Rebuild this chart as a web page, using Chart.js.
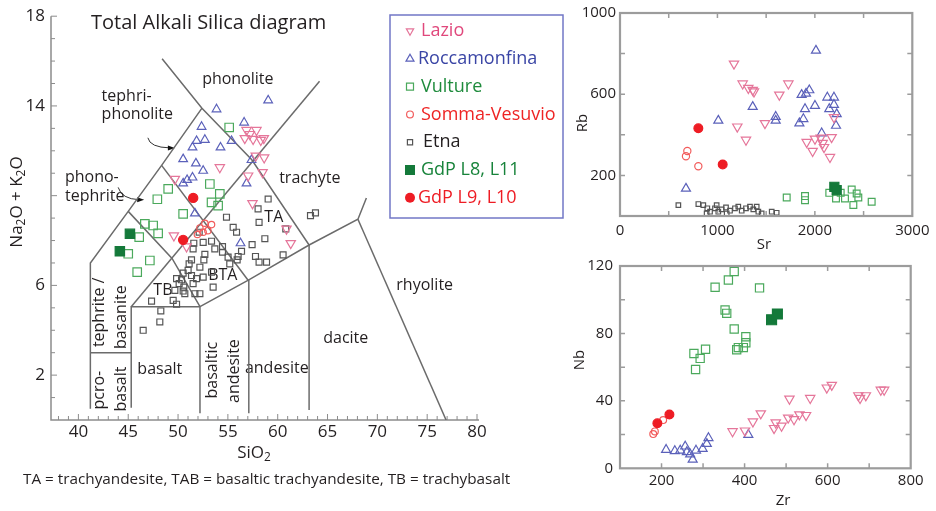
<!DOCTYPE html>
<html>
<head>
<meta charset="utf-8">
<script src="https://cdn.jsdelivr.net/npm/chart.js@4.4.1/dist/chart.umd.min.js"></script>
<style>
  html, body { margin: 0; padding: 0; background: #fff; }
  #wrap { position: relative; width: 936px; height: 511px; overflow: hidden; }
  canvas { position: absolute; }
</style>
</head>
<body>
<div id="wrap">
  <canvas id="tas" width="580" height="511" style="left:0;top:0"></canvas>
  <canvas id="nbzr" width="366" height="261" style="left:570px;top:250px"></canvas>
  <canvas id="rbsr" width="366" height="262" style="left:570px;top:0"></canvas>
</div>
<script>
// ---------- TAS diagram: SiO2 (x) vs Na2O + K2O (y) ----------
const lazioTAS = [[56.87,12.92],[57.87,12.92],[56.70,12.56],[57.53,12.52],[58.30,12.48],[58.61,12.56],
  [57.80,11.78],[58.64,11.70],[54.19,11.26],[57.03,10.89],[58.48,11.04],[57.47,9.66],[49.68,10.74],
  [49.58,8.22],[50.85,7.73],[60.88,8.52],[61.31,7.88],[57.20,12.74]];
const roccaTAS = [[59.04,14.25],[53.86,13.85],[56.63,13.26],[52.36,13.07],[51.86,12.44],[52.69,12.49],
  [51.45,12.15],[54.26,12.15],[55.37,12.44],[50.51,11.63],[51.79,11.44],[52.52,11.11],[51.45,10.81],
  [50.91,10.70],[50.51,10.55],[57.37,11.59],[56.87,10.55],[51.69,9.21],[56.27,7.88]];
const vultureTAS = [[55.13,13.04],[53.19,10.52],[54.19,10.08],[53.36,9.70],[54.02,9.56],[50.51,9.19],
  [49.01,10.30],[47.92,9.84],[46.67,8.74],[47.50,8.67],[48.00,8.32],[46.10,8.15],[47.17,7.11],
  [45.90,6.59],[45.00,7.41]];
const sommaTAS = [[53.36,8.71],[52.69,8.77],[52.19,8.56],[52.52,8.37],[51.94,8.27],[52.99,8.44]];
const etnaTAS = [[52.12,8.37],[52.52,7.92],[53.36,7.97],[53.69,7.63],[54.46,7.73],[54.46,7.48],[55.02,7.26],
  [55.93,7.14],[56.37,7.52],[57.43,7.82],[58.71,8.08],[57.77,7.29],[58.13,7.04],[58.88,7.04],[60.54,7.36],
  [51.51,7.63],[52.69,7.38],[52.59,7.14],[51.35,7.14],[51.11,6.96],[52.19,6.81],[49.85,6.30],[50.35,6.25],
  [50.11,6.08],[50.58,5.92],[50.68,5.63],[51.35,6.44],[52.19,5.63],[53.52,5.92],[47.34,5.30],[49.51,5.33],
  [49.85,5.16],[48.27,4.86],[48.17,4.37],[46.50,4.00],[59.04,9.85],[58.03,9.41],[58.13,8.81],[55.53,8.59],
  [55.87,8.37],[60.81,8.52],[54.86,9.04],[63.29,9.11],[63.79,9.23],[51.01,6.67],[51.86,6.30],[53.36,6.59],
  [50.51,5.75],[49.68,5.78],[51.69,5.63],[51.58,7.88],[56.03,7.29],[50.51,6.55],[51.51,6.08],[52.52,6.37],
  [55.19,6.96]];
const gdpGreenTAS = [[45.17,8.30],[44.16,7.52]];
const gdpRedTAS = [[51.52,9.90],[50.51,8.03]];

// field boundaries (SiO2, alkalis)
const tasLeftEdge = [[41.2,0.5],[41.2,7.0],[45.0,9.3],[48.35,11.35],[52.4,13.9]];
const picroTop = [[41.2,3.0],[45.3,3.0]];
const basaltBox = [[45.3,0.55],[45.3,5.05],[52.2,5.05],[52.2,0.3]];
const longDiagonal = [[45.3,5.05],[64.2,15.1]];
const tephriteEdge = [[45.0,9.3],[49.4,7.2],[52.2,5.05]];
const phonoTephriteEdge = [[48.35,11.35],[57.05,6.22]];
const trachyBase = [[52.2,5.05],[57.1,6.25],[63.15,7.8],[68.05,8.95],[68.9,9.9]];
const andesiteLine = [[57.1,0.3],[57.1,6.25]];
const daciteLine = [[63.15,0.45],[63.15,7.8]];
const rhyoliteLine = [[68.05,8.95],[76.9,0]];
const phonoliteEdge = [[48.4,16.1],[52.4,13.9],[57.4,11.6],[63.15,7.8]];
const tasBoundaries = [tasLeftEdge, picroTop, basaltBox, longDiagonal, tephriteEdge, phonoTephriteEdge,
  trachyBase, andesiteLine, daciteLine, rhyoliteLine, phonoliteEdge];

const tasXLabels = [40, 45, 50, 55, 60, 65, 70, 75, 80];
const tasYLabels = [2, 6, 14, 18];

// ---------- Rb vs Sr ----------
const lazioRbSr = [[1170,750],[1259,652],[1317,630],[1362,620],[1375,613],[1728,652],[1635,597],[1204,440],
  [1293,375],[1488,457],[1916,364],[2001,380],[2059,385],[2080,359],[2094,339],[1977,320],[2172,388],
  [2155,290],[2196,486]];
const roccaRbSr = [[2011,815],[1362,538],[1009,470],[1598,489],[1598,470],[1864,597],[1943,620],[1909,603],
  [1899,527],[1882,478],[1841,457],[2001,543],[2128,584],[2196,584],[2148,527],[2196,548],[2224,502],
  [2217,445],[2070,408],[677,135]];
const vultureRbSr = [[1711,91],[1899,98],[1899,78],[2148,114],[2217,86],[2309,86],[2378,130],[2429,111],
  [2446,91],[2395,54],[2583,70],[2265,114]];
const sommaRbSr = [[691,320],[677,294],[804,245]];
const etnaRbSr = [[599,54],[804,59],[855,54],[896,38],[924,21],[975,38],[1009,21],[1043,33],[1088,42],
  [1129,26],[1180,38],[1214,46],[1249,26],[1293,38],[1334,46],[1368,33],[1403,46],[1420,21],[1454,13],
  [1557,21],[1608,16],[889,13],[992,54],[1095,13]];
const gdpGreenRbSr = [[2200,144],[2224,127]];
const gdpRedRbSr = [[804,432],[1054,254]];

// ---------- Nb vs Zr ----------
const lazioNbZr = [[371,21.9],[401,22.3],[420,27.7],[439,32.5],[475,27.1],[471,23.8],[489,25.2],[505,30.0],
  [519,29.0],[532,31.9],[548,31.5],[508,41.2],[558,41.6],[598,47.8],[610,49.4],[674,43.2],[678,41.6],
  [692,43.2],[728,46.5],[736,46.5]];
const roccaNbZr = [[211,11.0],[232,10.3],[245,10.6],[257,13.0],[261,9.7],[269,8.3],[275,5.2],[283,10.6],
  [299,11.6],[309,14.5],[313,18.0],[409,19.9]];
const vultureNbZr = [[375,116.7],[361,111.7],[329,107.4],[436,107.0],[353,93.9],[357,91.9],[375,82.6],
  [403,78.0],[403,74.5],[397,71.6],[385,71.6],[381,70.3],[278,68.1],[293,65.2],[306,70.6],[282,58.6]];
const sommaNbZr = [[180,20.3],[184,21.9],[204,28.6]];
const gdpGreenNbZr = [[465,88.1],[479,91.5]];
const gdpRedNbZr = [[190,26.7],[219,31.9]];

const FONT = "'Open Sans', sans-serif";
const TEXT = '#231f20';
Chart.defaults.font.family = FONT;
Chart.defaults.color = TEXT;

// marker look for every group
const looks = {
  lazio:   { shape: 'triangle', rot: 180, color: '#e5769a', text: '#e0487c', fill: false },
  rocca:   { shape: 'triangle', rot: 0,   color: '#5b61ba', text: '#3a45a5', fill: false },
  vulture: { shape: 'rect',     rot: 0,   color: '#4ba95c', text: '#1e8b3c', fill: false },
  somma:   { shape: 'circle',   rot: 0,   color: '#f25c5c', text: '#ee2424', fill: false },
  etna:    { shape: 'rect',     rot: 0,   color: '#555555', text: '#231f20', fill: false },
  gdpG:    { shape: 'rect',     rot: 0,   color: '#14793a', text: '#17833a', fill: true },
  gdpR:    { shape: 'circle',   rot: 0,   color: '#ee1c24', text: '#ee1c24', fill: true }
};

function toPoints(arr) { return arr.map(p => ({ x: p[0], y: p[1] })); }

function pointSet(arr, key, r) {
  const lk = looks[key];
  return {
    data: toPoints(arr),
    pointStyle: lk.shape,
    rotation: lk.rot,
    pointRadius: r,
    borderColor: lk.color,
    backgroundColor: lk.fill ? lk.color : 'rgba(255,255,255,0)',
    borderWidth: 1.2,
    showLine: false,
    order: 0
  };
}

function lineSet(arr) {
  return {
    data: toPoints(arr),
    showLine: true,
    pointRadius: 0,
    borderColor: '#6b6b6b',
    borderWidth: 1.5,
    fill: false,
    tension: 0,
    order: 10
  };
}

// text with subscripts, parts = [[str, isSub], ...]
function richText(ctx, parts, cx, cy, size, vertical) {
  ctx.save();
  ctx.translate(cx, cy);
  if (vertical) ctx.rotate(-Math.PI / 2);
  let w = 0;
  parts.forEach(p => {
    ctx.font = (p[1] ? size * 0.7 : size) + 'px ' + FONT;
    w += ctx.measureText(p[0]).width;
  });
  let x = -w / 2;
  ctx.textBaseline = 'middle';
  ctx.textAlign = 'left';
  ctx.fillStyle = TEXT;
  parts.forEach(p => {
    ctx.font = (p[1] ? size * 0.7 : size) + 'px ' + FONT;
    ctx.fillText(p[0], x, p[1] ? size * 0.3 : 0);
    x += ctx.measureText(p[0]).width;
  });
  ctx.restore();
}

function drawMarker(ctx, key, x, y, r) {
  const lk = looks[key];
  ctx.beginPath();
  if (lk.shape === 'triangle') {
    const s = lk.rot ? -1 : 1;
    ctx.moveTo(x, y - s * r);
    ctx.lineTo(x + r * 0.866, y + s * r / 2);
    ctx.lineTo(x - r * 0.866, y + s * r / 2);
    ctx.closePath();
  } else if (lk.shape === 'rect') {
    ctx.rect(x - r, y - r, 2 * r, 2 * r);
  } else {
    ctx.arc(x, y, r, 0, Math.PI * 2);
  }
  if (lk.fill) { ctx.fillStyle = lk.color; ctx.fill(); }
  else { ctx.strokeStyle = lk.color; ctx.lineWidth = 1.2; ctx.stroke(); }
}

// field names in data units
const fieldNames = [
  { t: 'phonolite', x: 56.0, y: 15.2, align: 'center' },
  { t: 'tephri-', x: 42.33, y: 14.44, align: 'left' },
  { t: 'phonolite', x: 42.33, y: 13.6, align: 'left' },
  { t: 'phono-', x: 38.65, y: 10.8, align: 'left' },
  { t: 'tephrite', x: 38.65, y: 9.96, align: 'left' },
  { t: 'trachyte', x: 63.22, y: 10.76, align: 'center' },
  { t: 'TA', x: 59.61, y: 9.02, align: 'center' },
  { t: 'BTA', x: 54.49, y: 6.44, align: 'center' },
  { t: 'TB', x: 48.48, y: 5.78, align: 'center' },
  { t: 'rhyolite', x: 74.75, y: 6.0, align: 'center' },
  { t: 'dacite', x: 66.83, y: 3.64, align: 'center' },
  { t: 'andesite', x: 59.91, y: 2.31, align: 'center' },
  { t: 'basalt', x: 48.17, y: 2.27, align: 'center' },
  { t: 'tephrite /', x: 42.16, y: 4.8, vertical: true },
  { t: 'basanite', x: 44.36, y: 4.58, vertical: true },
  { t: 'pcro-', x: 42.16, y: 1.33, vertical: true },
  { t: 'basalt', x: 44.36, y: 1.38, vertical: true },
  { t: 'basaltic', x: 53.49, y: 2.22, vertical: true },
  { t: 'andesite', x: 55.70, y: 2.18, vertical: true }
];
// curved pointers: start, control, end (data units)
const pointers = [
  [[46.97, 12.58], [47.17, 12.15], [49.58, 12.13]],
  [[43.99, 10.37], [44.33, 9.85], [46.5, 9.82]]
];

const legendRows = [
  { key: 'lazio', label: 'Lazio', r: 4.2, tx: 421 },
  { key: 'rocca', label: 'Roccamonfina', r: 4.6, tx: 418 },
  { key: 'vulture', label: 'Vulture', r: 3.5, tx: 421 },
  { key: 'somma', label: 'Somma-Vesuvio', r: 3.4, tx: 421 },
  { key: 'etna', label: 'Etna', r: 2.6, tx: 423 },
  { key: 'gdpG', label: 'GdP L8, L11', r: 5, tx: 421 },
  { key: 'gdpR', label: 'GdP L9, L10', r: 5, tx: 418 }
];

const tasDecor = {
  id: 'tasDecor',
  beforeDatasetsDraw(chart) {
    const { ctx, chartArea: a, scales: { x, y } } = chart;
    ctx.save();
    // axis lines and inward ticks
    ctx.strokeStyle = '#8c8c8c';
    ctx.lineWidth = 1.5;
    ctx.beginPath();
    ctx.moveTo(a.left, a.top); ctx.lineTo(a.left, a.bottom); ctx.lineTo(a.right, a.bottom);
    ctx.stroke();
    ctx.lineWidth = 1;
    ctx.beginPath();
    for (let v = 38; v <= 80; v++) {
      const px = x.getPixelForValue(v), l = v % 5 === 0 ? 6 : 4;
      ctx.moveTo(px, a.bottom); ctx.lineTo(px, a.bottom - l);
    }
    for (let v = 1; v <= 18; v++) {
      const py = y.getPixelForValue(v), l = v % 4 === 2 ? 6 : 4;
      ctx.moveTo(a.left, py); ctx.lineTo(a.left + l, py);
    }
    ctx.stroke();

    // field names
    ctx.fillStyle = TEXT;
    ctx.font = '16px ' + FONT;
    ctx.textBaseline = 'middle';
    fieldNames.forEach(f => {
      const px = x.getPixelForValue(f.x), py = y.getPixelForValue(f.y);
      if (f.vertical) {
        ctx.save(); ctx.translate(px, py); ctx.rotate(-Math.PI / 2);
        ctx.textAlign = 'center'; ctx.fillText(f.t, 0, 0); ctx.restore();
      } else {
        ctx.textAlign = f.align; ctx.fillText(f.t, px, py);
      }
    });

    // pointers
    ctx.strokeStyle = '#333'; ctx.fillStyle = '#111'; ctx.lineWidth = 1;
    pointers.forEach(p => {
      const s = [x.getPixelForValue(p[0][0]), y.getPixelForValue(p[0][1])];
      const c = [x.getPixelForValue(p[1][0]), y.getPixelForValue(p[1][1])];
      const e = [x.getPixelForValue(p[2][0]), y.getPixelForValue(p[2][1])];
      ctx.beginPath(); ctx.moveTo(s[0], s[1]); ctx.quadraticCurveTo(c[0], c[1], e[0] - 4, e[1]); ctx.stroke();
      ctx.beginPath(); ctx.moveTo(e[0] + 1, e[1]); ctx.lineTo(e[0] - 6, e[1] - 2.5); ctx.lineTo(e[0] - 6, e[1] + 2.5);
      ctx.closePath(); ctx.fill();
    });
    ctx.restore();
  },
  afterDraw(chart) {
    const { ctx } = chart;
    ctx.save();
    ctx.fillStyle = TEXT;
    ctx.textBaseline = 'middle';
    ctx.textAlign = 'left';
    ctx.font = '20px ' + FONT;
    ctx.fillText('Total Alkali Silica diagram', 91, 23);
    ctx.font = '15.3px ' + FONT;
    ctx.fillText('TA = trachyandesite, TAB = basaltic trachyandesite, TB = trachybasalt', 23, 480);
    richText(ctx, [['SiO', 0], ['2', 1]], 254, 453, 17, false);
    richText(ctx, [['Na', 0], ['2', 1], ['O + K', 0], ['2', 1], ['O', 0]], 17, 202, 17, true);

    // legend box
    ctx.strokeStyle = '#7277c6';
    ctx.lineWidth = 1.5;
    ctx.strokeRect(390, 15, 173, 203);
    ctx.font = '18px ' + FONT;
    legendRows.forEach((row, i) => {
      const cy = 31 + i * 27.8;
      drawMarker(ctx, row.key, 410, cy, row.r);
      ctx.fillStyle = looks[row.key].text;
      ctx.fillText(row.label, row.tx, cy);
    });
    ctx.restore();
  }
};

new Chart(document.getElementById('tas'), {
  type: 'scatter',
  data: {
    datasets: [
      pointSet(gdpRedTAS, 'gdpR', 4.6),
      pointSet(gdpGreenTAS, 'gdpG', 6.6),
      pointSet(sommaTAS, 'somma', 3.2),
      pointSet(lazioTAS, 'lazio', 5.4),
      pointSet(roccaTAS, 'rocca', 5.0),
      pointSet(vultureTAS, 'vulture', 6.0),
      pointSet(etnaTAS, 'etna', 4.2)
    ].concat(tasBoundaries.map(lineSet))
  },
  options: {
    responsive: false, animation: false, devicePixelRatio: 1, events: [],
    layout: { padding: { top: 15, right: 101, bottom: 0, left: 0 } },
    plugins: { legend: { display: false }, tooltip: { enabled: false } },
    scales: {
      x: {
        type: 'linear', min: 37.25, max: 80.2,
        grid: { display: false, drawTicks: false }, border: { display: false },
        afterBuildTicks: s => { s.ticks = tasXLabels.map(v => ({ value: v })); },
        afterFit: s => { s.height = 91; },
        ticks: { padding: 2, font: { size: 17 }, color: TEXT, autoSkip: false, maxRotation: 0,
                 callback: v => String(v) }
      },
      y: {
        type: 'linear', min: 0, max: 18,
        grid: { display: false, drawTicks: false }, border: { display: false },
        afterBuildTicks: s => { s.ticks = tasYLabels.map(v => ({ value: v })); },
        afterFit: s => { s.width = 51; },
        ticks: { padding: 6, font: { size: 17 }, color: TEXT, autoSkip: false, callback: v => String(v) }
      }
    }
  },
  plugins: [tasDecor]
});

// ---------- trace element panels ----------
function framePlugin(xTickVals, yTickVals, xTitle, yTitle, xTitlePos, yTitlePos) {
  return {
    id: 'frame',
    afterDraw(chart) {
      const { ctx, chartArea: a, scales: { x, y } } = chart;
      ctx.save();
      ctx.strokeStyle = '#9c9c9c';
      ctx.lineWidth = 1.5;
      ctx.beginPath();
      xTickVals.forEach(v => {
        const px = x.getPixelForValue(v);
        ctx.moveTo(px, a.bottom); ctx.lineTo(px, a.bottom - 5);
        ctx.moveTo(px, a.top); ctx.lineTo(px, a.top + 5);
      });
      yTickVals.forEach(v => {
        const py = y.getPixelForValue(v);
        ctx.moveTo(a.left, py); ctx.lineTo(a.left + 5, py);
        ctx.moveTo(a.right, py); ctx.lineTo(a.right - 5, py);
      });
      ctx.stroke();
      ctx.lineWidth = 2.2;
      ctx.strokeRect(a.left, a.top, a.right - a.left, a.bottom - a.top);
      richText(ctx, [[xTitle, 0]], xTitlePos[0], xTitlePos[1], 15, false);
      richText(ctx, [[yTitle, 0]], yTitlePos[0], yTitlePos[1], 15, true);
      ctx.restore();
    }
  };
}

function panelScales(xMin, xMax, yMin, yMax, xLabels, yLabels, xHeight, xPad, yPad) {
  return {
    x: {
      type: 'linear', min: xMin, max: xMax,
      grid: { display: false, drawTicks: false }, border: { display: false },
      afterBuildTicks: s => { s.ticks = xLabels.map(v => ({ value: v })); },
      afterFit: s => { s.height = xHeight; },
      ticks: { padding: xPad, font: { size: 15 }, color: TEXT, autoSkip: false, maxRotation: 0,
               callback: v => String(v) }
    },
    y: {
      type: 'linear', min: yMin, max: yMax,
      grid: { display: false, drawTicks: false }, border: { display: false },
      afterBuildTicks: s => { s.ticks = yLabels.map(v => ({ value: v })); },
      afterFit: s => { s.width = 50; },
      ticks: { padding: yPad, font: { size: 15 }, color: TEXT, autoSkip: false, callback: v => String(v) }
    }
  };
}

const srLabels = [0, 1000, 2000, 3000];
const rbLabels = [200, 600, 1000];
const srTicks = [500, 1000, 1500, 2000, 2500];
const rbTicks = [200, 400, 600, 800];

new Chart(document.getElementById('rbsr'), {
  type: 'scatter',
  data: {
    datasets: [
      pointSet(gdpRedRbSr, 'gdpR', 4.4),
      pointSet(gdpGreenRbSr, 'gdpG', 6.4),
      pointSet(sommaRbSr, 'somma', 3.6),
      pointSet(lazioRbSr, 'lazio', 5.4),
      pointSet(roccaRbSr, 'rocca', 5.2),
      pointSet(vultureRbSr, 'vulture', 4.8),
      pointSet(etnaRbSr, 'etna', 3.2)
    ]
  },
  options: {
    responsive: false, animation: false, devicePixelRatio: 1, events: [],
    layout: { padding: { top: 11.7, right: 23.7, bottom: 0, left: 0 } },
    plugins: { legend: { display: false }, tooltip: { enabled: false } },
    scales: panelScales(0, 3000, 0, 1000, srLabels, rbLabels, 46, 6, 4)
  },
  plugins: [framePlugin(srTicks, rbTicks, 'Sr', 'Rb', [194, 245], [13, 123])]
});

const zrLabels = [200, 400, 600, 800];
const nbLabels = [0, 40, 80, 120];
const zrTicks = [200, 300, 400, 500, 600, 700];
const nbTicks = [20, 40, 60, 80, 100];

new Chart(document.getElementById('nbzr'), {
  type: 'scatter',
  data: {
    datasets: [
      pointSet(gdpRedNbZr, 'gdpR', 4.4),
      pointSet(gdpGreenNbZr, 'gdpG', 7),
      pointSet(sommaNbZr, 'somma', 3.4),
      pointSet(lazioNbZr, 'lazio', 5.4),
      pointSet(roccaNbZr, 'rocca', 5.2),
      pointSet(vultureNbZr, 'vulture', 5.8)
    ]
  },
  options: {
    responsive: false, animation: false, devicePixelRatio: 1, events: [],
    layout: { padding: { top: 11.7, right: 25.3, bottom: 0, left: 0 } },
    plugins: { legend: { display: false }, tooltip: { enabled: false } },
    scales: panelScales(100, 800, 0, 120, zrLabels, nbLabels, 42.7, 3, 7)
  },
  plugins: [framePlugin(zrTicks, nbTicks, 'Zr', 'Nb', [213, 251], [10, 110])]
});
</script>
</body>
</html>
